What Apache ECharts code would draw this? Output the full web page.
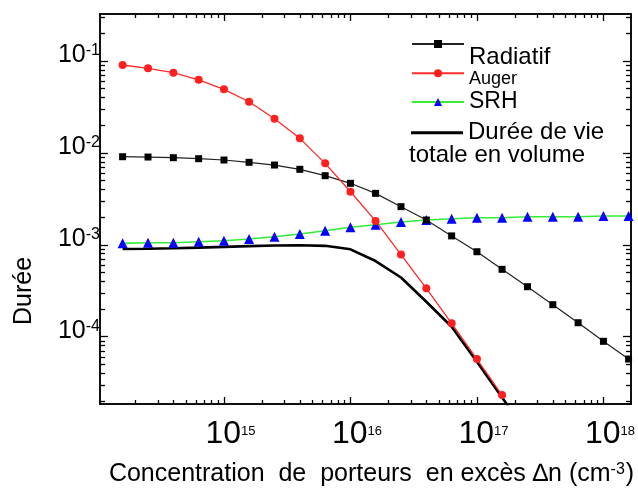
<!DOCTYPE html>
<html>
<head>
<meta charset="utf-8">
<script src="https://cdn.jsdelivr.net/npm/echarts@6/dist/echarts.min.js"></script>
<style>
  html, body { margin: 0; padding: 0; background: #fff; }
  #chart { width: 638px; height: 488px; }
</style>
</head>
<body>
<div id="chart"></div>
<script>
// excess carrier concentration, one point every 0.2 decade (cm-3)
const dn = [1.58e14, 2.51e14, 3.98e14, 6.31e14, 1.0e15, 1.58e15, 2.51e15, 3.98e15, 6.31e15,
  1.0e16, 1.58e16, 2.51e16, 3.98e16, 6.31e16, 1.0e17, 1.58e17, 2.51e17, 3.98e17, 6.31e17,
  1.0e18, 1.58e18];
const radiatif = [9.09e-3, 9.02e-3, 8.87e-3, 8.65e-3, 8.37e-3, 7.90e-3, 7.38e-3, 6.63e-3, 5.65e-3,
  4.67e-3, 3.63e-3, 2.60e-3, 1.86e-3, 1.25e-3, 8.41e-4, 5.41e-4, 3.50e-4, 2.23e-4, 1.42e-4,
  8.91e-5, 5.72e-5];
const auger = [0.0905, 0.0833, 0.0746, 0.0624, 0.0492, 0.0360, 0.0235, 0.0144, 7.7e-3,
  3.78e-3, 1.82e-3, 7.84e-4, 3.36e-4, 1.40e-4, 5.72e-5, 2.32e-5];
const srh = [1.038e-3, 1.054e-3, 1.054e-3, 1.081e-3, 1.108e-3, 1.156e-3, 1.225e-3, 1.311e-3, 1.423e-3,
  1.550e-3, 1.655e-3, 1.770e-3, 1.862e-3, 1.918e-3, 1.972e-3, 1.972e-3, 2.022e-3, 2.022e-3, 2.022e-3,
  2.058e-3, 2.058e-3];
const totale = [9.00e-4, 9.07e-4, 9.18e-4, 9.32e-4, 9.49e-4, 9.68e-4, 9.83e-4, 9.90e-4, 9.75e-4,
  8.93e-4, 6.66e-4, 4.41e-4, 2.40e-4, 1.285e-4, 5.35e-5, 2.18e-5, 8.9e-6];

// decade exponents carrying a label
const xDecades = [15, 16, 17, 18];
const yDecades = [-4, -3, -2, -1];
// axis range, in decades
const xMin = 14.02, xMax = 18.218;
const yMin = -4.732, yMax = -0.4886;

const FONT = '"Liberation Sans", Arial, sans-serif';

// both axes are logarithmic: values are placed by their log10 on value axes
const lg = Math.log10;

// log10(k x 10^d), k = 2..9, inside the range
function minorTicks(lo, hi) {
  const out = [];
  for (let d = Math.floor(lo); d <= Math.ceil(hi); d++) {
    for (let k = 2; k <= 9; k++) {
      const v = d + lg(k);
      if (v > lo && v < hi) out.push(v);
    }
  }
  return out;
}

function pairs(ys) {
  return ys.map((y, i) => [lg(dn[i]), lg(y)]);
}

const expLabel = v => '{b|10}{e|' + Math.round(v) + '}';

function axis(dim, pos, ticks, len, label) {
  const lim = dim === 'x' ? [xMin, xMax] : [yMin, yMax];
  return {
    type: 'value',
    min: lim[0],
    max: lim[1],
    position: pos,
    splitLine: { show: false },
    axisLine: { show: true, onZero: false, lineStyle: { color: '#000', width: 1.5 } },
    axisTick: { show: true, inside: true, length: len, customValues: ticks, lineStyle: { color: '#000', width: 1.3 } },
    axisLabel: label || { show: false }
  };
}

const xLabel = {
  customValues: xDecades,
  margin: 16,
  padding: [0, 0, 0, 13],
  formatter: expLabel,
  rich: {
    b: { fontSize: 32, lineHeight: 30, fontFamily: FONT, color: '#000', verticalAlign: 'bottom' },
    e: { fontSize: 13, lineHeight: 14, fontFamily: FONT, color: '#000', verticalAlign: 'top', padding: [5, 0, 0, 0] }
  }
};
const yLabel = {
  customValues: yDecades,
  margin: 0,
  verticalAlign: 'middle',
  padding: [0, 0, 12, 0],
  formatter: expLabel,
  rich: {
    b: { fontSize: 25, lineHeight: 25, fontFamily: FONT, color: '#000', verticalAlign: 'bottom' },
    e: { fontSize: 16, lineHeight: 16, fontFamily: FONT, color: '#000', verticalAlign: 'top' }
  }
};

const xMinor = minorTicks(xMin, xMax);
const yMinor = minorTicks(yMin, yMax);

const xAxes = [
  Object.assign(axis('x', 'bottom', xDecades, 7, xLabel), {
    name: '{n|Concentration  de  porteurs  en excès ∆n (cm}{s|-3}{n|)}',
    nameLocation: 'middle',
    nameGap: 58,
    nameTextStyle: {
      padding: [0, 0, 0, 12],
      rich: {
        n: { fontSize: 25, lineHeight: 25, fontFamily: FONT, color: '#000', verticalAlign: 'bottom' },
        s: { fontSize: 16, lineHeight: 16, fontFamily: FONT, color: '#000', verticalAlign: 'top', padding: [0, 1, 0, 0] }
      }
    }
  }),
  axis('x', 'bottom', xMinor, 4),
  axis('x', 'top', xDecades, 7),
  axis('x', 'top', xMinor, 4)
];
const yAxes = [
  Object.assign(axis('y', 'left', yDecades, 8, yLabel), {
    name: 'Durée',
    nameLocation: 'middle',
    nameGap: 63,
    nameTextStyle: { fontSize: 25, fontFamily: FONT, color: '#000', padding: [0, 164, 0, 0] }
  }),
  axis('y', 'left', yMinor, 5),
  axis('y', 'right', yDecades, 8),
  axis('y', 'right', yMinor, 5)
];

const legendBase = {
  orient: 'horizontal',
  padding: 0,
  itemWidth: 52,
  itemHeight: 10,
  selectedMode: false
};
function legendFor(name, left, top, size, shift, label, icon) {
  const l = Object.assign({}, legendBase, {
    data: [name],
    left: left,
    top: top,
    formatter: () => '{a|' + (label || name) + '}',
    textStyle: {
      rich: { a: { fontSize: size, lineHeight: size, fontFamily: FONT, color: '#000', padding: [shift, 0, 0, 0] } }
    }
  });
  if (icon) {
    l.icon = icon;
    l.itemHeight = 3;
  }
  return l;
}

const chart = echarts.init(document.getElementById('chart'), null, { renderer: 'canvas' });
chart.setOption({
  animation: false,
  backgroundColor: '#fff',
  grid: { left: 100, top: 14, right: 7, bottom: 84, containLabel: false, outerBoundsMode: 'none' },
  xAxis: xAxes,
  yAxis: yAxes,
  legend: [
    legendFor('Radiatif', 411, 19, 24, 26),
    legendFor('Auger', 411, 58.7, 18, 11),
    legendFor('SRH', 411, 90.5, 23, 0),
    legendFor('Durée de vie totale en volume', 411, 120.7, 24, 0, 'Durée de vie', 'rect')
  ],
  graphic: [
    {
      type: 'text',
      left: 409,
      top: 143,
      style: { text: 'totale en volume', font: '24px ' + FONT, fill: '#000' }
    }
  ],
  series: [
    {
      name: 'Durée de vie totale en volume',
      type: 'line',
      symbol: 'none',
      color: '#000',
      lineStyle: { color: '#000', width: 2.6 },
      data: pairs(totale)
    },
    {
      name: 'SRH',
      type: 'line',
      symbol: 'triangle',
      symbolSize: 10,
      itemStyle: { color: '#0000ff' },
      lineStyle: { color: '#33ee33', width: 1.6 },
      data: pairs(srh)
    },
    {
      name: 'Radiatif',
      type: 'line',
      symbol: 'rect',
      symbolSize: 7,
      itemStyle: { color: '#000' },
      lineStyle: { color: '#222', width: 1.2 },
      data: pairs(radiatif)
    },
    {
      name: 'Auger',
      type: 'line',
      symbol: 'circle',
      symbolSize: 8,
      itemStyle: { color: '#ff1f1f' },
      lineStyle: { color: '#ff2a2a', width: 1.3 },
      data: pairs(auger)
    }
  ]
});
</script>
</body>
</html>
